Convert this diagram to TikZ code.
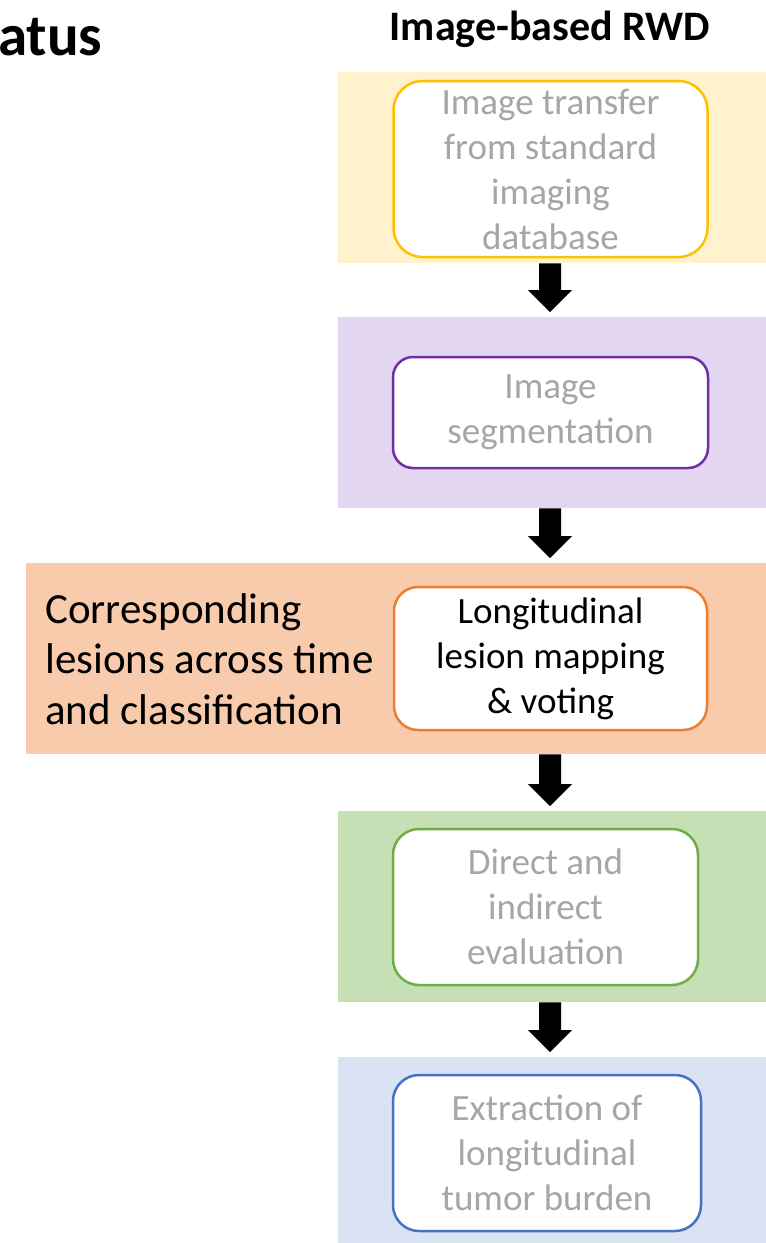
\documentclass[tikz,border=0pt]{standalone}
\usepackage{fontspec}
\setmainfont{Carlito}
\usetikzlibrary{calc}

\definecolor{ybg}{HTML}{FFF2CC}
\definecolor{yline}{HTML}{FFC000}
\definecolor{pbg}{HTML}{E3D6F1}
\definecolor{pline}{HTML}{7030A0}
\definecolor{obg}{HTML}{F8CBAD}
\definecolor{oline}{HTML}{ED7D31}
\definecolor{gbg}{HTML}{C5E0B4}
\definecolor{gline}{HTML}{70AD47}
\definecolor{bbg}{HTML}{DAE3F3}
\definecolor{bline}{HTML}{4472C4}
\definecolor{txtgrey}{HTML}{A6A6A6}

% block arrow from the bottom of one band to just above the next band
\newcommand\blockarrow[2]{%
  \fill[black] let \p1=(#1.south), \p2=(#2.north), \p3=(axis) in
    (\x3-11pt,\y1) -- (\x3+11pt,\y1) -- (\x3+11pt,\y2+27pt) -- (\x3+22pt,\y2+27pt)
    -- (\x3,\y2+5pt) -- (\x3-22pt,\y2+27pt) -- (\x3-11pt,\y2+27pt) -- cycle;}

\begin{document}
\begin{tikzpicture}[x=1pt,y=-1pt,
  band/.style={rectangle, inner sep=0pt, anchor=north west, minimum height=191pt},
  stepbox/.style={rectangle, draw=#1, fill=white, line width=2.5pt, inner sep=0pt,
    align=center, text=txtgrey, font=\fontsize{37}{45}\selectfont},
  sidetext/.style={align=left, inner sep=0pt, font=\fontsize{43}{50.5}\selectfont}]
\useasboundingbox (0,0) rectangle (766,1243);
\coordinate (axis) at (550,0);

% headings
\node[anchor=base west, inner sep=0pt, font=\bfseries\fontsize{59}{64}\selectfont] (status) at (-2,55) {atus};
\node[anchor=base, inner sep=0pt, font=\bfseries\fontsize{42}{48}\selectfont] (title) at (550,40) {Image-based RWD};

% coloured bands
\node[band, fill=ybg, minimum width=428pt] (band1) at (338,72) {};
\node[band, fill=pbg, minimum width=428pt] (band2) at (338,317) {};
\node[band, fill=obg, minimum width=740pt] (band3) at (26,563) {};
\node[band, fill=gbg, minimum width=428pt] (band4) at (338,811) {};
\node[band, fill=bbg, minimum width=428pt, minimum height=186pt] (band5) at (338,1057) {};

% process steps
\node[stepbox=yline, rounded corners=29pt, minimum width=314pt, minimum height=176pt] (box1) at (550.5,169)
  {Image transfer\\from standard\\imaging\\database};
\node[stepbox=pline, rounded corners=20pt, minimum width=315pt, minimum height=111pt] (box2) at (550.5,412.5)
  {Image\\segmentation};
\node[stepbox=oline, rounded corners=24pt, minimum width=313pt, minimum height=143pt, text=black] (box3) at (550.5,658.5)
  {Longitudinal\\lesion mapping\\\& voting};
\node[stepbox=gline, rounded corners=26pt, minimum width=305pt, minimum height=156pt] (box4) at (545.5,907)
  {Direct and\\indirect\\evaluation};
\node[stepbox=bline, rounded corners=26pt, minimum width=308pt, minimum height=156pt] (box5) at (547,1153)
  {Extraction of\\longitudinal\\tumor burden};

% side note
\node[sidetext, anchor=west] (note) at (45,659) {Corresponding\\lesions across time\\and classification};

% connectors
\blockarrow{band1}{band2}
\blockarrow{band2}{band3}
\blockarrow{band3}{band4}
\blockarrow{band4}{band5}
\end{tikzpicture}
\end{document}
